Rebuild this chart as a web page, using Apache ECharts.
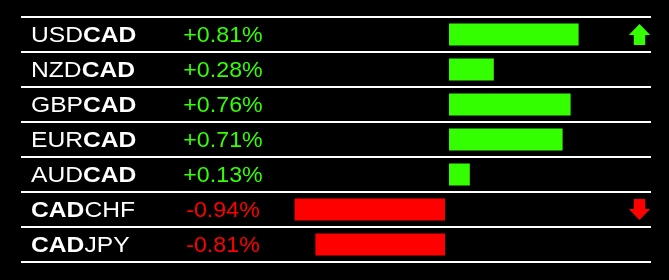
<!DOCTYPE html>
<html>
<head>
<meta charset="utf-8">
<script src="https://cdn.jsdelivr.net/npm/echarts@6/dist/echarts.min.js"></script>
<style>
html,body{margin:0;padding:0;background:#000;}
#chart{width:669px;height:280px;}
</style>
</head>
<body>
<div id="chart"></div>
<script>
// ---- data ----
const pairs = ['USDCAD', 'NZDCAD', 'GBPCAD', 'EURCAD', 'AUDCAD', 'CADCHF', 'CADJPY'];
const changes = [0.81, 0.28, 0.76, 0.71, 0.13, -0.94, -0.81];
const arrows = ['up', '', '', '', '', 'down', ''];
const baseCurrency = 'CAD';

const GREEN = '#33ff00';
const RED = '#ff0000';

const posData = changes.map(v => v > 0 ? v : '-');
const negData = changes.map(v => v < 0 ? v : '-');

function richLabel(p) {
  const idx = p.indexOf(baseCurrency);
  const before = p.slice(0, idx);
  const after = p.slice(idx + baseCurrency.length);
  let s = '';
  if (before) s += '{r|' + before + '}';
  s += '{b|' + baseCurrency + '}';
  if (after) s += '{r|' + after + '}';
  return s;
}
function fmtPct(v) {
  return (v > 0 ? '+' : '') + v.toFixed(2) + '%';
}

const FONT = '"Liberation Sans", Arial, sans-serif';
const LFS = 22, LSX = 1.12;
const PFS = 21.5, PSX = 1.08;
const DY = 1.5;

const chart = echarts.init(document.getElementById('chart'), null, {renderer: 'canvas'});
const gridTop = 17, gridH = 245;
chart.setOption({
  backgroundColor: '#000000',
  animation: false,
  grid: [
    {left: 285, right: 224, top: gridTop, height: gridH},
    {left: 449, width: 160, top: gridTop, height: gridH},
    {left: 21, right: 18, top: gridTop, height: gridH}
  ],
  xAxis: [
    {gridIndex: 0, type: 'value', min: -1, max: 0, show: false},
    {gridIndex: 1, type: 'value', min: 0, max: 1, show: false},
    {gridIndex: 2, type: 'value', min: 0, max: 1, show: false}
  ],
  yAxis: [
    {gridIndex: 0, type: 'category', data: pairs, inverse: true, show: false},
    {gridIndex: 1, type: 'category', data: pairs, inverse: true, show: false},
    {gridIndex: 2, type: 'category', data: pairs, inverse: true,
     axisLine: {show: false}, axisTick: {show: false}, axisLabel: {show: false},
     splitLine: {show: true, lineStyle: {color: '#ffffff', width: 2}}}
  ],
  series: [
    {type: 'bar', xAxisIndex: 0, yAxisIndex: 0, data: negData, barWidth: 22,
     itemStyle: {color: RED}},
    {type: 'bar', xAxisIndex: 1, yAxisIndex: 1, data: posData, barWidth: 22,
     itemStyle: {color: GREEN}},
    {type: 'custom', xAxisIndex: 2, yAxisIndex: 2,
     data: pairs.map((p, i) => [0, i]),
     renderItem: function (params, api) {
       const i = api.value(1);
       const y = api.coord([0, i])[1];
       const v = changes[i];
       const col = v >= 0 ? GREEN : RED;
       const children = [
         {type: 'text', x: 31, y: y + DY, scaleX: LSX,
          style: {text: richLabel(pairs[i]), textAlign: 'left', textVerticalAlign: 'middle',
            rich: {
              r: {fontFamily: FONT, fontSize: LFS, fill: '#ffffff', fontWeight: 'normal'},
              b: {fontFamily: FONT, fontSize: LFS, fill: '#ffffff', fontWeight: 'bold',
                  textStroke: '#ffffff', textStrokeWidth: 0.8}
            }}},
         {type: 'text', x: 223, y: y + DY, scaleX: PSX,
          style: {text: fmtPct(v), textAlign: 'center', textVerticalAlign: 'middle',
            fontFamily: FONT, fontSize: PFS, fill: col}}
       ];
       const cx = 639.5;
       if (arrows[i] === 'up') {
         children.push({type: 'polygon', shape: {points: [
           [cx, y - 10.5], [cx + 10.7, y + 0.5], [cx + 5.7, y + 0.5], [cx + 5.7, y + 10.5],
           [cx - 5.7, y + 10.5], [cx - 5.7, y + 0.5], [cx - 10.7, y + 0.5]]},
           style: {fill: GREEN}});
       } else if (arrows[i] === 'down') {
         children.push({type: 'polygon', shape: {points: [
           [cx, y + 10.5], [cx + 10.7, y - 0.5], [cx + 5.7, y - 0.5], [cx + 5.7, y - 10.5],
           [cx - 5.7, y - 10.5], [cx - 5.7, y - 0.5], [cx - 10.7, y - 0.5]]},
           style: {fill: RED}});
       }
       return {type: 'group', children: children};
     }}
  ]
});
</script>
</body>
</html>
